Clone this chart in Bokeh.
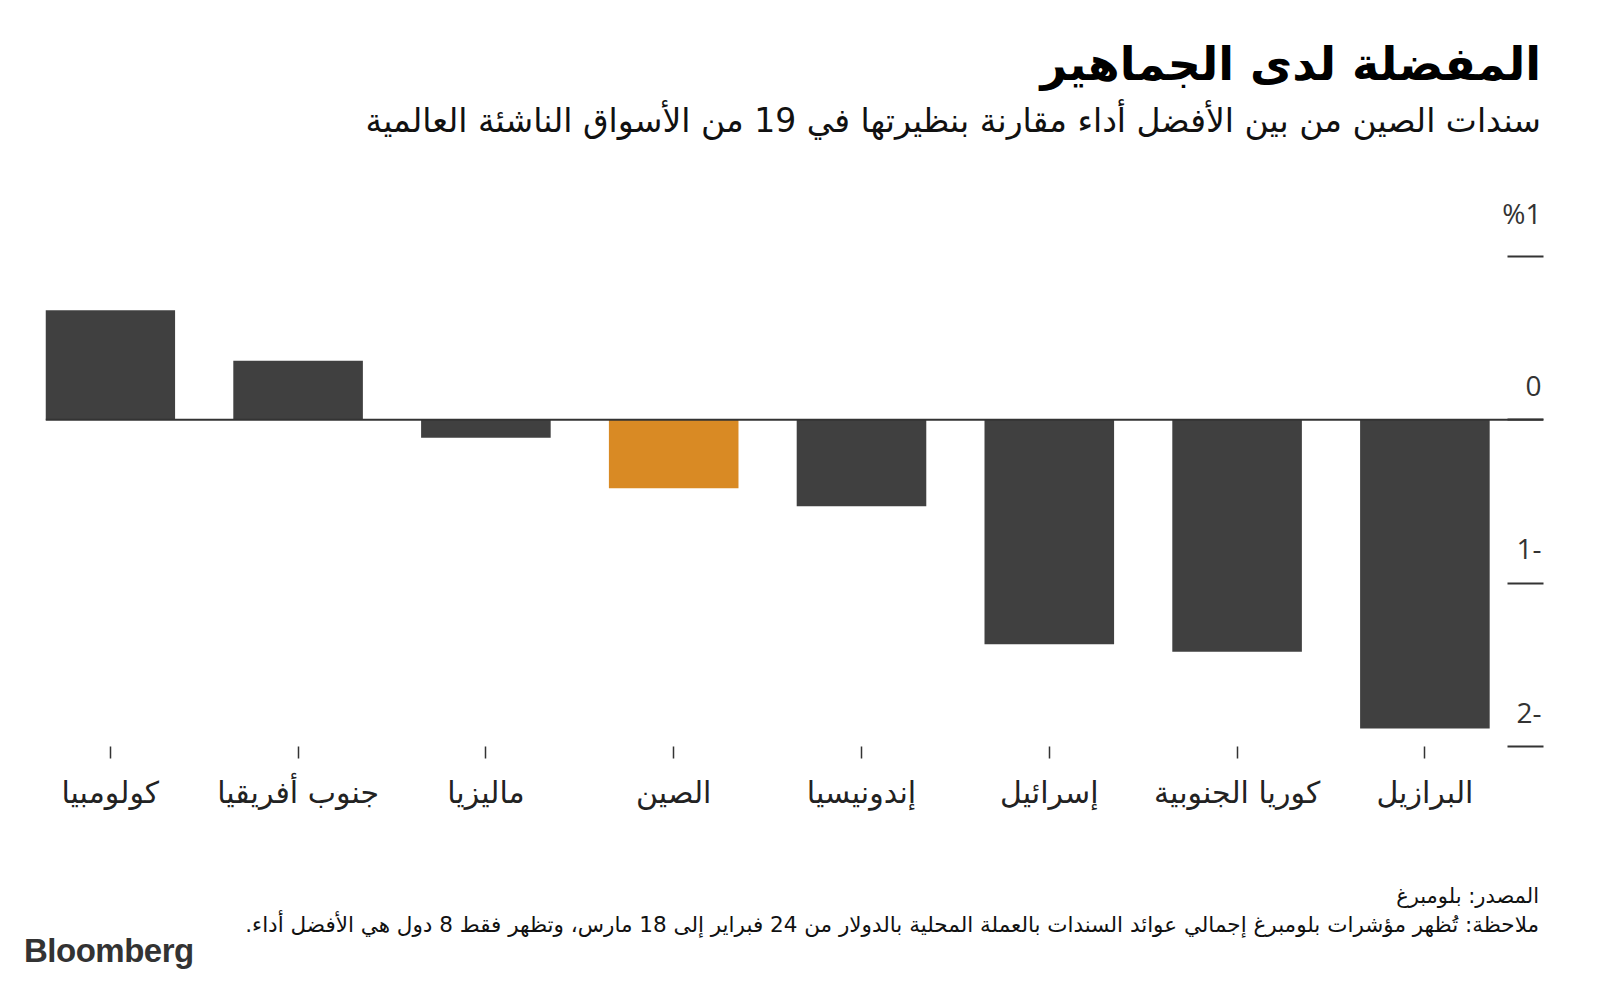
from bokeh.plotting import figure
from bokeh.models import Range1d, FixedTicker, Span, ColumnDataSource, Div
from bokeh.layouts import column
from bokeh.core.properties import value
from bokeh.embed import file_html
from bokeh.resources import INLINE

categories = ["كولومبيا", "جنوب أفريقيا", "ماليزيا", "الصين", "إندونيسيا", "إسرائيل", "كوريا الجنوبية", "البرازيل"]
values = [0.67, 0.36, -0.11, -0.42, -0.53, -1.375, -1.42, -1.89]
highlight = "الصين"
y_ticks = [1, 0, -1, -2]
y_tick_labels = ["%1", "0", "1-", "2-"]

title_text = "المفضلة لدى الجماهير"
subtitle_text = "سندات الصين من بين الأفضل أداء مقارنة بنظيرتها في 19 من الأسواق الناشئة العالمية"
source_text = "المصدر: بلومبرغ"
note_text = "ملاحظة: تُظهر مؤشرات بلومبرغ إجمالي عوائد السندات بالعملة المحلية بالدولار من 24 فبراير إلى 18 مارس، وتظهر فقط 8 دول هي الأفضل أداء."
brand_text = "Bloomberg"

AR = "DejaVu Sans"
NUM = "Open Sans"
W = 1600
HEAD_H, FIG_H, FOOT_H = 160, 700, 123
L, R, T, B = 45, 57, 35, 114
px_per_cat = 187.8
bar_w = 0.69
frame_w = W - L - R

xs = list(range(len(categories)))
colors = ["#d98a24" if c == highlight else "#404040" for c in categories]
src = ColumnDataSource(dict(x=xs, v=values, c=colors))

x0 = -bar_w / 2
x1 = x0 + frame_w / px_per_cat

p = figure(width=W, height=FIG_H, output_backend="svg", toolbar_location=None,
           x_range=Range1d(x0, x1), y_range=Range1d(-2, 1.372),
           y_axis_location="right", margin=(0, 0, 0, 0),
           min_border_left=L, min_border_right=R, min_border_top=T, min_border_bottom=B)
p.outline_line_color = None
p.grid.visible = False
p.background_fill_color = "white"
p.border_fill_color = "white"

p.vbar(x="x", top="v", bottom=0, width=bar_w, fill_color="c", line_color=None, source=src)
p.add_layout(Span(location=0, dimension="width", line_color="#333333", line_width=2))

# x axis
xa = p.xaxis[0]
xa.ticker = FixedTicker(ticks=xs)
xa.major_label_overrides = {i: c for i, c in zip(xs, categories)}
xa.axis_line_color = None
xa.major_tick_in = 0
xa.major_tick_out = 12
xa.major_tick_line_color = "#333333"
xa.major_tick_line_width = 1.5
xa.minor_tick_line_color = None
xa.major_label_text_font = AR
xa.major_label_text_font_size = "30px"
xa.major_label_text_color = "#222222"
xa.major_label_standoff = 16

# y axis (right): horizontal tick marks only
ya = p.yaxis[0]
ya.ticker = FixedTicker(ticks=y_ticks)
ya.axis_line_color = None
ya.major_tick_in = 36
ya.major_tick_out = 0
ya.major_tick_line_color = "#333333"
ya.major_tick_line_width = 2
ya.minor_tick_line_color = None
ya.major_label_overrides = {t: "" for t in y_ticks}
ya.major_label_text_font_size = "1px"

p.text(x=[x1] * len(y_ticks), y=y_ticks, text=y_tick_labels, text_align="right",
       text_baseline="bottom", x_offset=-2, y_offset=-24,
       text_font=value(NUM), text_font_size="28px", text_color="#333333")

base = "position:absolute;white-space:nowrap;"
header = Div(width=W, height=HEAD_H, margin=(0, 0, 0, 0), text=(
    f'<div style="position:relative;width:{W}px;height:{HEAD_H}px;font-family:\'{AR}\';">'
    f'<div style="{base}right:59px;top:32px;height:64px;line-height:64px;font-size:46px;'
    f'font-weight:bold;color:#000;direction:rtl;">{title_text}</div>'
    f'<div style="{base}right:59px;top:100px;height:42px;line-height:42px;font-size:33px;'
    f'color:#111;direction:rtl;">{subtitle_text}</div>'
    '</div>'))

footer = Div(width=W, height=FOOT_H, margin=(0, 0, 0, 0), text=(
    f'<div style="position:relative;width:{W}px;height:{FOOT_H}px;font-family:\'{AR}\';">'
    f'<div style="{base}right:61px;top:22px;height:28px;line-height:28px;font-size:21px;'
    f'color:#111;direction:rtl;">{source_text}</div>'
    f'<div style="{base}right:61px;top:51px;height:28px;line-height:28px;font-size:21.5px;'
    f'color:#111;direction:rtl;">{note_text}</div>'
    f'<div style="{base}left:24px;top:73px;height:36px;line-height:36px;font-size:33px;'
    f'font-weight:bold;letter-spacing:-0.5px;color:#333;font-family:\'Liberation Sans\';">{brand_text}</div>'
    '</div>'))

layout = column(header, p, footer, spacing=0, margin=(0, 0, 0, 0))
open("out.html", "w").write(file_html(layout, INLINE))
